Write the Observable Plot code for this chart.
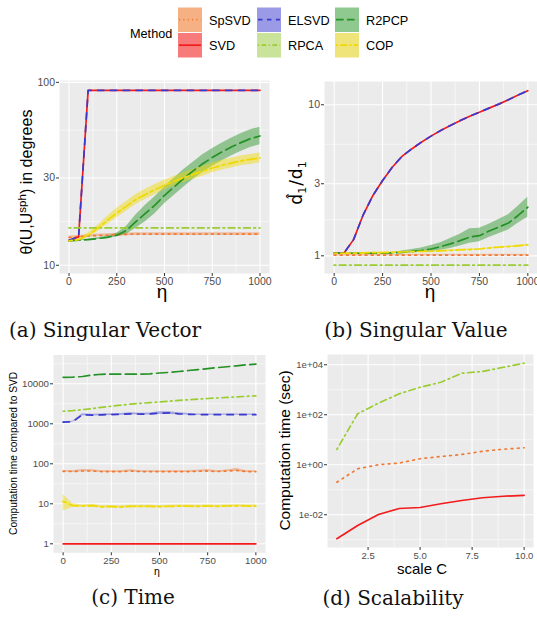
<!DOCTYPE html>
<html><head><meta charset="utf-8">
<script src="https://cdn.jsdelivr.net/npm/d3@7"></script>
<script src="https://cdn.jsdelivr.net/npm/@observablehq/plot@0.6"></script>
<style>
body{margin:0;background:#fff;}
#root{position:relative;width:537px;height:617px;overflow:hidden;font-family:"Liberation Sans",Arial,sans-serif;}
#root svg{position:absolute;}
</style></head><body><div id="root"></div>
<script>
// ---------- data ----------
const METHODS = ["SpSVD","SVD","ELSVD","RPCA","R2PCP","COP"];
const ETA = [0,50,100,150,200,250,300,350,400,450,500,550,600,650,700,750,800,850,900,950,1000];
const SCALE_C = [1,2,3,4,5,6,7,8,9,10];

// (a) singular vector angle (degrees)
const A_SpSVD    = [14.2,14.3,14.45,14.55,14.6,14.7,14.75,14.8,14.8,14.8,14.8,14.8,14.8,14.8,14.8,14.8,14.8,14.8,14.8,14.8,14.8];
const A_SpSVD_LO = [13.95,14.05,14.2,14.3,14.35,14.45,14.5,14.55,14.55,14.55,14.55,14.55,14.55,14.55,14.55,14.55,14.55,14.55,14.55,14.55,14.55];
const A_SpSVD_HI = [14.45,14.55,14.7,14.8,14.85,14.95,15.0,15.05,15.05,15.05,15.05,15.05,15.05,15.05,15.05,15.05,15.05,15.05,15.05,15.05,15.05];
const A_SVD      = [13.7,14.3,90.4,90.4,90.4,90.4,90.4,90.4,90.4,90.4,90.4,90.4,90.4,90.4,90.4,90.4,90.4,90.4,90.4,90.4,90.4];
const A_ELSVD    = [13.7,14.3,90.4,90.4,90.4,90.4,90.4,90.4,90.4,90.4,90.4,90.4,90.4,90.4,90.4,90.4,90.4,90.4,90.4,90.4,90.4];
const A_RPCA     = [16.0,16.0,16.0,16.0,16.0,16.0,16.0,16.0,16.0,16.0,16.0,16.0,16.0,16.0,16.0,16.0,16.0,16.0,16.0,16.0,16.0];
const A_R2PCP    = [13.6,13.7,13.8,14.0,14.2,14.6,15.5,17.3,19.2,21.3,24.1,26.8,29.8,32.8,35.9,38.8,41.6,44.3,46.8,49.2,50.9];
const A_R2PCP_LO = [13.5,13.6,13.7,13.85,14.0,14.27,14.74,15.92,17.3,19.15,21.7,24.05,26.7,29.4,32.1,34.7,37.2,39.6,41.9,44.05,45.6];
const A_R2PCP_HI = [13.7,13.8,13.9,14.15,14.4,14.94,16.3,18.8,21.3,23.7,26.8,29.9,33.3,36.6,40.2,43.4,46.5,49.5,52.3,55.0,56.9];
const A_COP      = [13.6,13.8,14.6,15.9,17.6,19.3,21.0,22.9,24.4,25.9,27.4,28.8,30.1,31.4,32.7,34.0,35.2,36.2,37.2,37.9,38.6];
const A_COP_LO   = [13.5,13.6,14.2,15.3,16.7,18.2,19.75,21.5,22.9,24.3,25.75,27.1,28.3,29.5,30.7,32.0,33.1,34.0,35.0,35.6,36.3];
const A_COP_HI   = [13.7,14.0,15.0,16.5,18.5,20.5,22.3,24.4,26.0,27.6,29.15,30.6,32.0,33.4,34.8,36.2,37.45,38.5,39.6,40.3,41.1];

// (b) singular value ratio
const B_SpSVD    = [1.01,1.01,1.01,1.01,1.01,1.01,1.01,1.01,1.01,1.01,1.01,1.01,1.01,1.01,1.01,1.01,1.01,1.01,1.01,1.01,1.01];
const B_SpSVD_LO = [0.997,0.997,0.997,0.997,0.997,0.997,0.997,0.997,0.997,0.997,0.997,0.997,0.997,0.997,0.997,0.997,0.997,0.997,0.997,0.997,0.997];
const B_SpSVD_HI = [1.023,1.023,1.023,1.023,1.023,1.023,1.023,1.023,1.023,1.023,1.023,1.023,1.023,1.023,1.023,1.023,1.023,1.023,1.023,1.023,1.023];
const B_SVD      = [1.04,1.04,1.28,1.87,2.51,3.15,3.86,4.55,5.1,5.65,6.2,6.75,7.3,7.85,8.4,8.93,9.5,10.1,10.8,11.6,12.4];
const B_ELSVD    = [1.04,1.04,1.28,1.87,2.51,3.15,3.86,4.55,5.1,5.65,6.2,6.75,7.3,7.85,8.4,8.93,9.5,10.1,10.8,11.6,12.4];
const B_RPCA     = [0.867,0.867,0.867,0.867,0.867,0.867,0.867,0.867,0.867,0.867,0.867,0.867,0.867,0.867,0.867,0.867,0.867,0.867,0.867,0.867,0.867];
const B_R2PCP    = [1.04,1.04,1.04,1.04,1.04,1.04,1.045,1.055,1.07,1.085,1.11,1.15,1.20,1.26,1.33,1.36,1.46,1.55,1.65,1.85,2.10];
const B_R2PCP_LO = [1.035,1.035,1.035,1.035,1.035,1.035,1.038,1.035,1.045,1.055,1.06,1.09,1.12,1.16,1.21,1.24,1.32,1.40,1.48,1.64,1.80];
const B_R2PCP_HI = [1.045,1.045,1.045,1.045,1.045,1.045,1.052,1.075,1.10,1.125,1.17,1.22,1.30,1.39,1.51,1.52,1.62,1.74,1.87,2.13,2.44];
const B_COP      = [1.04,1.04,1.04,1.045,1.05,1.05,1.055,1.06,1.065,1.07,1.07,1.08,1.085,1.095,1.10,1.11,1.125,1.14,1.15,1.165,1.18];
const B_COP_LO   = [1.03,1.03,1.03,1.035,1.04,1.04,1.045,1.05,1.055,1.06,1.06,1.07,1.075,1.085,1.09,1.10,1.115,1.13,1.14,1.15,1.165];
const B_COP_HI   = [1.05,1.05,1.05,1.055,1.06,1.06,1.065,1.07,1.075,1.08,1.08,1.09,1.095,1.105,1.11,1.12,1.135,1.15,1.16,1.18,1.195];

// (c) computation time relative to SVD
const C_SpSVD    = [65,64,66,66,64,64,64,66,64,64,64,64,64,64,65,66,64,66,68,64,64];
const C_SpSVD_LO = [62,61,63,63,61,61,61,63,61,61,61,61,61,61,62,63,61,63,64,61,61];
const C_SpSVD_HI = [68,67,72,71,67,67,67,71,67,67,67,67,67,67,69,72,67,70,76,67,67];
const C_SVD      = [1,1,1,1,1,1,1,1,1,1,1,1,1,1,1,1,1,1,1,1,1];
const C_ELSVD    = [1100,1120,1700,1640,1680,1700,1720,1780,1750,1760,1840,1880,1780,1720,1700,1700,1690,1690,1690,1690,1690];
const C_ELSVD_LO = [1080,1090,1580,1560,1600,1620,1640,1680,1660,1670,1700,1720,1680,1650,1640,1640,1630,1630,1630,1630,1630];
const C_ELSVD_HI = [1120,1150,1780,1730,1760,1790,1810,1880,1840,1860,1990,2000,1890,1800,1770,1770,1750,1750,1750,1750,1750];
const C_RPCA     = [2060,2130,2260,2400,2580,2750,2920,3100,3250,3380,3520,3680,3830,3990,4140,4290,4420,4560,4710,4860,5000];
const C_R2PCP    = [14500,14700,15200,16500,17300,17500,17500,17400,17400,17800,18600,19300,20300,21500,22700,24000,25400,26700,28200,29800,31000];
const C_COP      = [11.5,9.0,8.8,9.0,8.4,8.5,8.3,8.6,8.6,8.6,8.5,8.6,8.7,8.7,8.6,8.8,8.6,8.8,8.9,8.8,8.7];
const C_COP_LO   = [6.6,8.2,8.2,8.4,7.9,8.0,7.8,8.1,8.1,8.1,8.0,8.1,8.2,8.2,8.1,8.3,8.1,8.3,8.4,8.3,8.2];
const C_COP_HI   = [17.0,10.0,9.4,9.7,9.0,9.1,8.9,9.2,9.2,9.2,9.1,9.2,9.3,9.3,9.2,9.4,9.2,9.4,9.5,9.4,9.3];

// (d) scalability, seconds
const D_SpSVD = [0.20,0.69,1.0,1.17,1.74,2.14,2.57,3.47,4.17,4.79];
const D_SVD   = [0.0011,0.0037,0.0102,0.0178,0.0195,0.0275,0.0372,0.0479,0.055,0.060];
const D_RPCA  = [4.1,110,290,690,1260,2000,4570,5370,7940,11500];

// tick labels
const ETA_TICKS = [0,250,500,750,1000];
const A_TICKS = [10,30,100];
const B_TICKS = [1,3,10];
const C_TICKS = [1,10,100,1000,10000];
const D_XTICKS = [2.5,5.0,7.5,10.0];
const D_YTICKS = [0.01,1,100,10000];

// ---------- styles ----------
const COLOR = {SpSVD:"#F07A35", SVD:"#F21C1C", ELSVD:"#3A3AD0", RPCA:"#9ACD32", R2PCP:"#249224", COP:"#EFD900"};
const KEYFILL = {SpSVD:"#F5B183", SVD:"#F77B7B", ELSVD:"#9A9AE6", RPCA:"#C9E39B", R2PCP:"#8FC98F", COP:"#EFE47A"};
const DASH = {SpSVD:"1.7,4.5", SVD:null, ELSVD:"6.4,6.4", RPCA:"1.6,3.6,6.6,3.6", R2PCP:"11,4.6", COP:"3.2,3.2,9.6,3.2"};
const FONT = "'Liberation Sans', Arial, Helvetica, sans-serif";

const root = document.getElementById("root");

function rows(xs, s) {
  return xs.map((x, i) => ({x, y: s.y[i], lo: s.lo ? s.lo[i] : null, hi: s.hi ? s.hi[i] : null}));
}
// ggplot-style minor grid: midpoints (in scale space) between major ticks, plus one step beyond each end
function minorBreaks(ticks, log, domain) {
  const t = log ? ticks.map(Math.log10) : ticks.slice();
  const ext = [2 * t[0] - t[1], ...t, 2 * t[t.length - 1] - t[t.length - 2]];
  const out = [];
  for (let i = 0; i < ext.length - 1; i++) out.push((ext[i] + ext[i + 1]) / 2);
  const inv = log ? out.map(v => Math.pow(10, v)) : out;
  const [a, b] = domain;
  return inv.filter(v => v > a && v < b);
}

function panel(cfg) {
  const {left, top, width, height, ml, mr, mt, mb, xs, xDomain, yDomain, xTicks, yTicks, xFormat, yFormat, series, tickFont} = cfg;
  const xMinor = minorBreaks(xTicks, false, xDomain);
  const yMinor = minorBreaks(yTicks, true, yDomain);
  const marks = [
    Plot.frame({fill: "#EBEBEB", stroke: null}),
    Plot.ruleY(yMinor, {stroke: "#fff", strokeWidth: 0.55}),
    Plot.ruleX(xMinor, {stroke: "#fff", strokeWidth: 0.55}),
    Plot.ruleY(yTicks, {stroke: "#fff", strokeWidth: 1.1}),
    Plot.ruleX(xTicks, {stroke: "#fff", strokeWidth: 1.1})
  ];
  for (const s of series) if (s.lo) marks.push(Plot.areaY(rows(xs, s), {x: "x", y1: "lo", y2: "hi", fill: COLOR[s.m], fillOpacity: s.op || 0.45}));
  for (const s of series) marks.push(Plot.lineY(rows(xs, s), {x: "x", y: "y", stroke: COLOR[s.m], strokeWidth: 1.7, strokeDasharray: DASH[s.m]}));
  marks.push(Plot.axisX({ticks: xTicks, tickFormat: xFormat, tickSize: 3, tickPadding: 1.5, stroke: "#333", fill: "#4D4D4D", label: null}));
  marks.push(Plot.axisY({ticks: yTicks, tickFormat: yFormat, tickSize: 3, tickPadding: 1.5, stroke: "#333", fill: "#4D4D4D", label: null}));
  const svg = Plot.plot({
    width, height, marginLeft: ml, marginRight: mr, marginTop: mt, marginBottom: mb,
    x: {domain: xDomain},
    y: {type: "log", domain: yDomain},
    style: {fontSize: tickFont + "px", fontFamily: FONT, background: "transparent", overflow: "visible"},
    marks
  });
  svg.style.left = left + "px";
  svg.style.top = top + "px";
  root.appendChild(svg);
  return d3.select(svg);
}

const fmtInt = d => String(d);
const fmtExp = d => { const e = Math.round(Math.log10(d)); return "1e" + (e < 0 ? "-" : "+") + String(Math.abs(e)).padStart(2, "0"); };

// ---------- (a) ----------
const ga = panel({
  left: 0, top: 70, width: 270, height: 235, ml: 59, mr: 1, mt: 10, mb: 32,
  xs: ETA, xDomain: [-50, 1050], yDomain: [Math.pow(10, 0.955), Math.pow(10, 2.01)],
  xTicks: ETA_TICKS, yTicks: A_TICKS, xFormat: fmtInt, yFormat: fmtInt, tickFont: 10.5,
  series: [
    {m: "SpSVD", y: A_SpSVD, lo: A_SpSVD_LO, hi: A_SpSVD_HI, op: 0.4},
    {m: "SVD", y: A_SVD},
    {m: "ELSVD", y: A_ELSVD},
    {m: "RPCA", y: A_RPCA},
    {m: "R2PCP", y: A_R2PCP, lo: A_R2PCP_LO, hi: A_R2PCP_HI},
    {m: "COP", y: A_COP, lo: A_COP_LO, hi: A_COP_HI}
  ]
});
{
  const t = ga.append("text").attr("transform", "translate(32,112) rotate(-90)").attr("text-anchor", "middle")
    .attr("font-family", FONT).attr("font-size", 16).attr("fill", "#000");
  t.append("tspan").text("θ(U,U");
  t.append("tspan").attr("font-size", 11.5).attr("dy", -6.5).text("sph");
  t.append("tspan").attr("dy", 6.5).text(") in degrees");
  ga.append("text").attr("x", 162).attr("y", 227.5).attr("text-anchor", "middle")
    .attr("font-family", FONT).attr("font-size", 19).attr("fill", "#000").text("η");
}

// ---------- (b) ----------
const gb = panel({
  left: 270, top: 70, width: 267, height: 235, ml: 54, mr: 0, mt: 11, mb: 32,
  xs: ETA, xDomain: [-50, 1050], yDomain: [Math.pow(10, -0.117), Math.pow(10, 1.154)],
  xTicks: ETA_TICKS, yTicks: B_TICKS, xFormat: fmtInt, yFormat: fmtInt, tickFont: 10.5,
  series: [
    {m: "SpSVD", y: B_SpSVD, lo: B_SpSVD_LO, hi: B_SpSVD_HI, op: 0.4},
    {m: "SVD", y: B_SVD},
    {m: "ELSVD", y: B_ELSVD},
    {m: "RPCA", y: B_RPCA},
    {m: "R2PCP", y: B_R2PCP, lo: B_R2PCP_LO, hi: B_R2PCP_HI},
    {m: "COP", y: B_COP, lo: B_COP_LO, hi: B_COP_HI}
  ]
});
{
  const t = gb.append("text").attr("transform", "translate(32,113) rotate(-90)").attr("text-anchor", "middle")
    .attr("font-family", "'DejaVu Sans', sans-serif").attr("font-size", 17).attr("fill", "#000");
  t.append("tspan").text("d\u0302");
  t.append("tspan").attr("font-size", 11).attr("dy", 4).text("1");
  t.append("tspan").attr("dy", -4).attr("dx", 1).text("/");
  t.append("tspan").attr("dx", 1).text("d");
  t.append("tspan").attr("font-size", 11).attr("dy", 4).text("1");
  gb.append("text").attr("x", 160).attr("y", 227.5).attr("text-anchor", "middle")
    .attr("font-family", FONT).attr("font-size", 19).attr("fill", "#000").text("η");
}

// ---------- (c) ----------
const gc = panel({
  left: 0, top: 340, width: 270, height: 245, ml: 53, mr: 5, mt: 14.5, mb: 32.7,
  xs: ETA, xDomain: [-50, 1050], yDomain: [Math.pow(10, -0.225), Math.pow(10, 4.72)],
  xTicks: ETA_TICKS, yTicks: C_TICKS, xFormat: fmtInt, yFormat: fmtInt, tickFont: 9.7,
  series: [
    {m: "SpSVD", y: C_SpSVD, lo: C_SpSVD_LO, hi: C_SpSVD_HI, op: 0.45},
    {m: "SVD", y: C_SVD},
    {m: "ELSVD", y: C_ELSVD, lo: C_ELSVD_LO, hi: C_ELSVD_HI, op: 0.4},
    {m: "RPCA", y: C_RPCA},
    {m: "R2PCP", y: C_R2PCP},
    {m: "COP", y: C_COP, lo: C_COP_LO, hi: C_COP_HI, op: 0.45}
  ]
});
gc.append("text").attr("transform", "translate(17,113.4) rotate(-90)").attr("text-anchor", "middle")
  .attr("font-family", FONT).attr("font-size", 10.2).attr("fill", "#000").text("Computation time compared to SVD");
gc.append("text").attr("x", 157).attr("y", 235).attr("text-anchor", "middle")
  .attr("font-family", FONT).attr("font-size", 10.5).attr("fill", "#000").text("η");

// ---------- (d) ----------
const gd = panel({
  left: 270, top: 340, width: 267, height: 245, ml: 57, mr: 4, mt: 14, mb: 38,
  xs: SCALE_C, xDomain: [0.55, 10.45], yDomain: [Math.pow(10, -3.31), Math.pow(10, 4.41)],
  xTicks: D_XTICKS, yTicks: D_YTICKS, xFormat: d => d.toFixed(1), yFormat: fmtExp, tickFont: 9.5,
  series: [
    {m: "SpSVD", y: D_SpSVD},
    {m: "SVD", y: D_SVD},
    {m: "RPCA", y: D_RPCA}
  ]
});
gd.append("text").attr("transform", "translate(20,110.5) rotate(-90)").attr("text-anchor", "middle")
  .attr("font-family", FONT).attr("font-size", 15.5).attr("fill", "#000").text("Computation time (sec)");
gd.append("text").attr("x", 152).attr("y", 234).attr("text-anchor", "middle")
  .attr("font-family", FONT).attr("font-size", 15).attr("fill", "#000").text("scale C");

// ---------- legend & captions ----------
const over = d3.select(root).append("svg").attr("width", 537).attr("height", 617)
  .style("left", "0px").style("top", "0px").style("pointer-events", "none");
over.append("text").attr("x", 130).attr("y", 38).attr("font-family", FONT).attr("font-size", 12.7).attr("fill", "#000").text("Method");
const cols = [178, 257, 335];
const rowsY = [7.5, 33];
METHODS.forEach((m, i) => {
  const cx = cols[Math.floor(i / 2)], cy = rowsY[i % 2];
  over.append("rect").attr("x", cx).attr("y", cy).attr("width", 24).attr("height", 24.5).attr("fill", KEYFILL[m]);
  over.append("line").attr("x1", cx + 1).attr("x2", cx + 23).attr("y1", cy + 12.2).attr("y2", cy + 12.2)
    .attr("stroke", COLOR[m]).attr("stroke-width", 1.7).attr("stroke-dasharray", DASH[m] ? DASH[m].split(",").map(v => v * 0.7).join(",") : null);
  over.append("text").attr("x", cx + 31).attr("y", cy + 17).attr("font-family", FONT).attr("font-size", 12.7).attr("fill", "#000").text(m);
});
const caps = [["(a) Singular Vector", 105, 337], ["(b) Singular Value", 416, 337], ["(c) Time", 133, 604], ["(d) Scalability", 393, 605]];
for (const [t, x, y] of caps) {
  over.append("text").attr("x", x).attr("y", y).attr("text-anchor", "middle")
    .attr("font-family", "'DejaVu Serif', 'Liberation Serif', serif").attr("font-size", 20).attr("fill", "#111").text(t);
}
</script></body></html>
